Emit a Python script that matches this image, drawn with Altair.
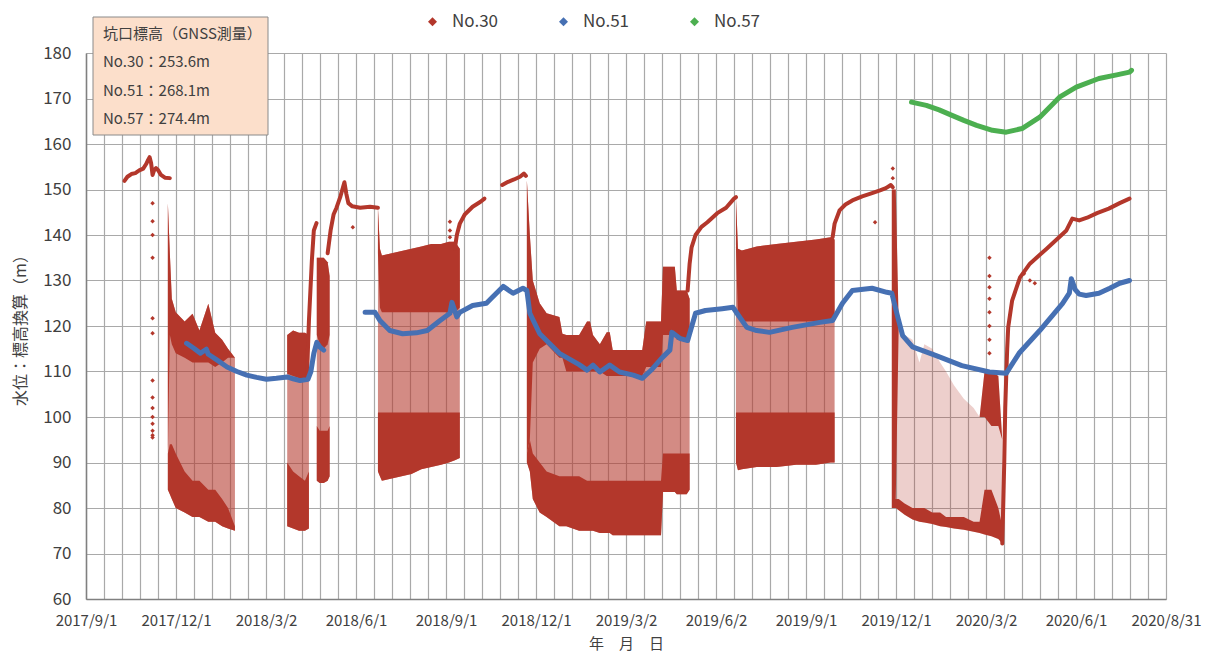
import altair as alt
import pandas as pd

# ---------------- text / ticks ----------------
x_tick_labels = ["2017/9/1", "2017/12/1", "2018/3/2", "2018/6/1", "2018/9/1", "2018/12/1",
                 "2019/3/2", "2019/6/2", "2019/9/1", "2019/12/1", "2020/3/2", "2020/6/1", "2020/8/31"]
x_major_step = 91.25        # days between labelled ticks (x = days since 2017/9/1)
x_minor_per_major = 5
y_ticks = list(range(60, 181, 10))

series_names = ["No.30", "No.51", "No.57"]
series_colors = ["#b3372b", "#4670b3", "#4caf50"]
note_lines = ["坑口標高（GNSS測量）", "No.30：253.6m", "No.51：268.1m", "No.57：274.4m"]

# ---------------- No.30 continuous stretches (day, level) ----------------
n30_a_day = [39, 42, 46, 50, 54, 58, 61, 63, 64.5, 66, 67.5, 69, 71, 73, 76, 80, 85]
n30_a_val = [151.9, 152.8, 153.4, 153.6, 154.2, 154.6, 155.6, 156.5, 157.1, 155.8, 153.2, 154.2, 154.7, 154.3, 153.2, 152.6, 152.5]
n30_c_day = [224, 226, 229, 231, 233.7]
n30_c_val = [108.5, 121, 134.4, 141, 142.6]
n30_e_day = [245, 248, 251, 254, 258, 262, 264, 266, 270, 278, 288, 296]
n30_e_val = [136, 141, 144.5, 146, 148.5, 151.6, 149, 147, 146.3, 146, 146.2, 146]
n30_f_day = [374, 376, 379, 384, 392, 400, 404]
n30_f_val = [137, 140, 142.5, 144.5, 146.2, 147.3, 148]
n30_g_day = [422, 428, 434, 440, 444, 446]
n30_g_val = [151, 151.7, 152.2, 152.8, 153.5, 153]
n30_i_day = [610, 612, 614, 618, 624, 630, 640, 649, 657, 659]
n30_i_val = [127.8, 133.7, 137.3, 140, 141.8, 142.8, 144.8, 146, 148, 148.3]
n30_k_day = [757, 759, 764, 770, 777, 787, 797, 805, 811, 816, 818]
n30_k_val = [139.5, 142.5, 145.4, 146.7, 147.6, 148.5, 149.2, 149.8, 150.3, 151, 150.5]
n30_m_day = [929, 931, 932, 933, 934, 935, 939, 947, 957, 974, 994, 1000, 1007, 1015, 1025, 1037, 1048, 1058]
n30_m_val = [72.2, 90, 102, 108.8, 115, 119.7, 125.6, 130.7, 133.7, 137, 141, 143.6, 143.2, 143.8, 144.8, 145.8, 147, 148]

# ---------------- No.30 fluctuating periods: envelopes ----------------
# hi = top, hd = bottom of dense upper band, ld = top of dense lower band, lo = bottom
bB_day = [83, 85, 87, 91, 100, 108, 115, 124, 131, 138, 144, 151]
bB_hi = [147, 136, 126, 123, 121, 122.7, 119, 124.9, 118.5, 117, 115, 113]
bB_hd = [92, 118, 116, 114, 113, 112, 112, 112, 111, 112, 113, 113]
bB_ld = [92, 94, 94, 92, 88, 86, 86, 84, 84, 82, 80, 76]
bB_lo = [84, 83, 82, 80, 79, 78, 78, 77, 77, 76, 75.5, 75]

bC_day = [204, 210, 216, 222, 226]
bC_hi = [118, 119, 118.5, 118.5, 118]
bC_hd = [109.5, 109, 108.5, 108, 108]
bC_ld = [90, 88, 87, 86, 88]
bC_lo = [76, 75.5, 75, 75, 75.5]

bD_day = [234, 237, 241, 245, 247]
bD_hi = [135, 135, 135, 134, 131]
bD_hd = [118, 116, 115, 116, 118]
bD_ld = [98, 97, 97, 97, 98]
bD_lo = [86, 85.5, 85.5, 86, 87]

bF_day = [296, 298, 300, 310, 320, 330, 340, 350, 360, 368, 374, 379]
bF_hi = [146, 137, 135.5, 136, 136.5, 137, 137.5, 138, 138, 138.5, 138.5, 137]
bF_hd = [136, 124, 123, 123, 123, 123, 123, 123, 123, 123, 123, 124]
bF_ld = [101, 101, 101, 101, 101, 101, 101, 101, 101, 101, 101, 101]
bF_lo = [88, 87, 86, 86.5, 87, 87.5, 88.5, 89, 89.5, 90, 90.5, 91]

bH_day = [447, 450, 453, 460, 467, 480, 483, 487, 500, 508, 511, 514, 521, 528, 531, 534, 564, 568, 583, 585, 597, 599, 609, 612]
bH_hi = [152, 140, 130, 125, 122.8, 122, 118.3, 118, 118, 121, 121, 118, 116, 118.6, 118.6, 114.7, 114.7, 121, 121, 133, 133, 127.8, 127.8, 126]
bH_hd = [92, 95, 112, 115, 116, 113, 113, 110, 110, 110, 110, 110, 110, 109, 109, 109, 109, 111, 111, 118, 118, 117, 117, 117]
bH_ld = [92, 95, 92, 90, 88, 87, 87, 87, 87, 86, 86, 86, 86, 86, 86, 86, 86, 86, 86, 92, 92, 92, 92, 92]
bH_lo = [90, 88, 82, 79, 78, 76, 76, 76, 75, 75, 75, 75, 74.5, 74.5, 74.5, 74, 74, 74, 74, 83.5, 83.5, 83, 83, 84]

bJ_day = [659, 661, 665, 680, 700, 720, 740, 755, 759]
bJ_hi = [148, 137, 136.6, 137.5, 138, 138.5, 139, 139.5, 139]
bJ_hd = [137, 122, 121, 121, 121, 121, 121, 121, 122]
bJ_ld = [101, 101, 101, 101, 101, 101, 101, 101, 101]
bJ_lo = [90, 88.3, 88.5, 89, 89, 89.5, 89.5, 90, 90]

bL_day = [817, 821, 824, 830, 838, 845, 850, 858, 866, 872, 880, 890, 900, 906, 911, 918, 925, 929]
bL_hi = [150, 150, 120, 118, 117, 112, 116, 115, 112, 110, 107, 104, 102, 100, 110, 110, 109, 95]
bL_hd = [82, 82, 120, 118, 117, 112, 116, 115, 112, 110, 107, 104, 102, 100, 100, 98, 98, 95]
bL_ld = [82, 82, 82, 81, 80, 80, 80, 79, 79, 78, 78, 78, 77, 77, 84, 84, 80, 76]
bL_lo = [80, 80, 79.5, 78.5, 77.5, 77, 76.8, 76.5, 76, 75.8, 75.5, 75.2, 74.8, 74.5, 74.2, 73.8, 73.2, 72.2]

# isolated No.30 readings
n30_pts_day = [67.5] * 14 + [270.5, 369, 369, 369, 800, 818, 818] + [916] * 8 + [951, 957, 962]
n30_pts_val = [147, 143, 140, 135, 121.7, 118.4, 108, 104.3, 102, 100, 98.5, 97, 96, 95.5,
               141.7, 139.5, 141, 142.9, 142.8, 152.5, 154.6,
               135, 131, 128.5, 126, 123, 120, 117, 114, 131.5, 130, 129.4]

# ---------------- No.51 ----------------
n51_a_day = [102, 110, 116, 122, 124, 133, 143, 153, 163, 173, 183, 193, 204, 210, 217, 225, 228, 231, 234, 237, 241]
n51_a_val = [116.2, 115, 114, 114.9, 113.8, 112.5, 111, 110, 109.2, 108.7, 108.3, 108.5, 108.8, 108.4, 108, 108.3, 110, 114, 116.4, 115.4, 114.7]
n51_b_day = [283, 293, 298, 308, 321, 335, 346, 359, 369, 371, 376, 379, 392, 406, 412, 423, 433, 443, 447, 450, 460, 480,
             500, 508, 514, 521, 531, 541, 555, 564, 574, 584, 592, 594, 602, 610, 618, 628, 645, 656, 660, 670, 680, 693,
             716, 744, 757, 767, 777, 797, 812, 817, 823, 828, 838, 862, 888, 916, 933, 946, 967, 990, 997, 999, 1003,
             1007, 1014, 1027, 1038, 1048, 1058]
n51_b_val = [123, 123, 121.2, 119, 118.3, 118.5, 119, 121.2, 122.8, 125.2, 122, 123, 124.5, 125, 126.3, 128.7, 127.2, 128.3, 127.8, 122.8, 118.3, 114,
             111.5, 110.3, 111.4, 109.9, 111.4, 109.9, 109.2, 108.5, 110.5, 113, 114.7, 118.6, 117.3, 116.8, 122.8, 123.4, 123.8, 124.1, 122.8, 119.7, 119, 118.6,
             119.7, 120.8, 121.2, 125, 127.8, 128.3, 127.4, 127.2, 122, 117.9, 115.4, 113.5, 111.3, 109.9, 109.6, 114, 119, 124.9, 127.2, 130.4, 128,
             127, 126.7, 127.2, 128.3, 129.4, 130]

# ---------------- No.57 ----------------
n57_day = [837, 852, 865, 878, 890, 903, 919, 933, 949, 967, 987, 1004, 1027, 1045, 1058, 1060]
n57_val = [169.2, 168.5, 167.5, 166.3, 165.2, 164.1, 163, 162.6, 163.4, 165.9, 170.3, 172.5, 174.4, 175.2, 175.8, 176.2]

# ---------------- tables ----------------
line_segments = [
    ("No.30", "a", n30_a_day, n30_a_val), ("No.30", "c", n30_c_day, n30_c_val),
    ("No.30", "e", n30_e_day, n30_e_val), ("No.30", "f", n30_f_day, n30_f_val),
    ("No.30", "g", n30_g_day, n30_g_val), ("No.30", "i", n30_i_day, n30_i_val),
    ("No.30", "k", n30_k_day, n30_k_val), ("No.30", "m", n30_m_day, n30_m_val),
    ("No.51", "a", n51_a_day, n51_a_val), ("No.51", "b", n51_b_day, n51_b_val),
    ("No.57", "a", n57_day, n57_val),
]
rows = []
for s, seg, ds, vs in line_segments:
    for d, v in zip(ds, vs):
        rows.append({"series": s, "seg": s + seg, "day": d, "val": v})
lines_df = pd.DataFrame(rows)

bands = [("B", bB_day, bB_hi, bB_hd, bB_ld, bB_lo), ("C", bC_day, bC_hi, bC_hd, bC_ld, bC_lo),
         ("D", bD_day, bD_hi, bD_hd, bD_ld, bD_lo), ("F", bF_day, bF_hi, bF_hd, bF_ld, bF_lo),
         ("H", bH_day, bH_hi, bH_hd, bH_ld, bH_lo), ("J", bJ_day, bJ_hi, bJ_hd, bJ_ld, bJ_lo),
         ("L", bL_day, bL_hi, bL_hd, bL_ld, bL_lo)]
brows = []
for name, ds, hi, hd, ld, lo in bands:
    for i in range(len(ds)):
        brows.append({"band": name, "day": ds[i], "hi": hi[i], "hd": hd[i], "ld": ld[i], "lo": lo[i]})
bands_df = pd.DataFrame(brows)

pts_df = pd.DataFrame({"day": n30_pts_day, "val": n30_pts_val})

# ---------------- encodings ----------------
FONT = "Noto Sans CJK JP"
TXT = "#404040"
RED = series_colors[0]
x_end = x_major_step * (len(x_tick_labels) - 1)
x_grid_vals = [i * x_major_step / x_minor_per_major for i in range(x_minor_per_major * (len(x_tick_labels) - 1) + 1)]
lab_arr = "[" + ",".join("'" + t + "'" for t in x_tick_labels) + "]"
label_expr = (f"(round(datum.value / {x_major_step / x_minor_per_major}) % {x_minor_per_major} == 0) ? "
              f"{lab_arr}[round(datum.value / {x_major_step})] : ''")

xs = alt.Scale(domain=[0, x_end], nice=False, zero=False)
ys = alt.Scale(domain=[60, 180], nice=False, zero=False)
x_axis = alt.Axis(values=x_grid_vals, labelExpr=label_expr, grid=True, ticks=False, labelOverlap=False,
                  labelFlush=False, labelBound=False, labelPadding=14, labelFontSize=15, titleFontSize=15,
                  titlePadding=8, gridColor="#a9a9a9", gridWidth=1.2, domainColor="#808080", domainWidth=1.5)
y_axis = alt.Axis(values=y_ticks, grid=True, ticks=False, labelPadding=15, labelFontSize=17, titleFontSize=16,
                  titlePadding=14, gridColor="#a9a9a9", gridWidth=1.2, domainColor="#808080", domainWidth=1.5)
X_TITLE = "年　月　日"
Y_TITLE = "水位：標高換算（m）"


def X():
    return alt.X("day:Q", scale=xs, axis=x_axis, title=X_TITLE)


def Y(f):
    return alt.Y(f"{f}:Q", scale=ys, axis=y_axis, title=Y_TITLE)


band_mid = alt.Chart(bands_df).transform_filter("datum.band != 'L'").mark_area(
    color=RED, opacity=0.58).encode(x=X(), y=Y("hi"), y2=alt.Y2("lo"), detail="band:N")
band_mid_L = alt.Chart(bands_df).transform_filter("datum.band == 'L'").mark_area(
    color=RED, opacity=0.24).encode(x=X(), y=Y("hi"), y2=alt.Y2("lo"), detail="band:N")
band_top = alt.Chart(bands_df).mark_area(color=RED, opacity=1).encode(
    x=X(), y=Y("hi"), y2=alt.Y2("hd"), detail="band:N")
band_bot = alt.Chart(bands_df).mark_area(color=RED, opacity=1).encode(
    x=X(), y=Y("ld"), y2=alt.Y2("lo"), detail="band:N")

legend_pts = alt.Chart(lines_df).mark_point(shape="diamond", filled=True, size=8, opacity=1).encode(
    x=X(), y=Y("val"),
    color=alt.Color("series:N", scale=alt.Scale(domain=series_names, range=series_colors),
                    legend=alt.Legend(title=None, orient="none", legendX=338, legendY=-40, direction="horizontal",
                                      symbolType="diamond", symbolSize=80, symbolStrokeWidth=0,
                                      labelFontSize=17, labelFont=FONT, labelColor=TXT, labelOffset=11,
                                      columnPadding=56, padding=0)))

red_lines = alt.Chart(lines_df).transform_filter("datum.series == 'No.30'").mark_line(
    strokeWidth=4, color=RED, strokeCap="round", strokeJoin="round").encode(x=X(), y=Y("val"), detail="seg:N")
red_pts = alt.Chart(pts_df).mark_point(shape="diamond", filled=True, size=20, color=RED, opacity=1).encode(
    x=X(), y=Y("val"))
other_lines = alt.Chart(lines_df).transform_filter("datum.series != 'No.30'").mark_line(
    strokeWidth=5, strokeCap="round", strokeJoin="round").encode(
    x=X(), y=Y("val"), detail="seg:N",
    stroke=alt.Stroke("series:N", scale=alt.Scale(domain=series_names, range=series_colors), legend=None))

one = pd.DataFrame({"k": [0]})
note_box = alt.Chart(one).mark_rect(fill="#fcdfcb", stroke="#8a8a8a", strokeWidth=1).encode(
    x=alt.value(7), x2=alt.value(182), y=alt.value(-36), y2=alt.value(82))
note_layers = []
for i, t in enumerate(note_lines):
    note_layers.append(alt.Chart(one).mark_text(align="left", baseline="middle", fontSize=15, font=FONT,
                                                color=TXT).encode(
        x=alt.value(17), y=alt.value(-19 + i * 28.3), text=alt.value(t)))

chart = alt.layer(band_mid, band_mid_L, band_top, band_bot, legend_pts, red_lines, red_pts, other_lines,
                  note_box, *note_layers).properties(
    width=1080, height=546, autosize=alt.AutoSizeParams(type="none"),
    padding={"left": 78, "top": 45, "right": 40, "bottom": 62}
).configure_axis(labelFont=FONT, titleFont=FONT, labelColor=TXT, titleColor=TXT, titleFontWeight="normal"
).configure_view(stroke=None)

chart.save("out.html", embed_options={"renderer": "svg", "actions": False})
